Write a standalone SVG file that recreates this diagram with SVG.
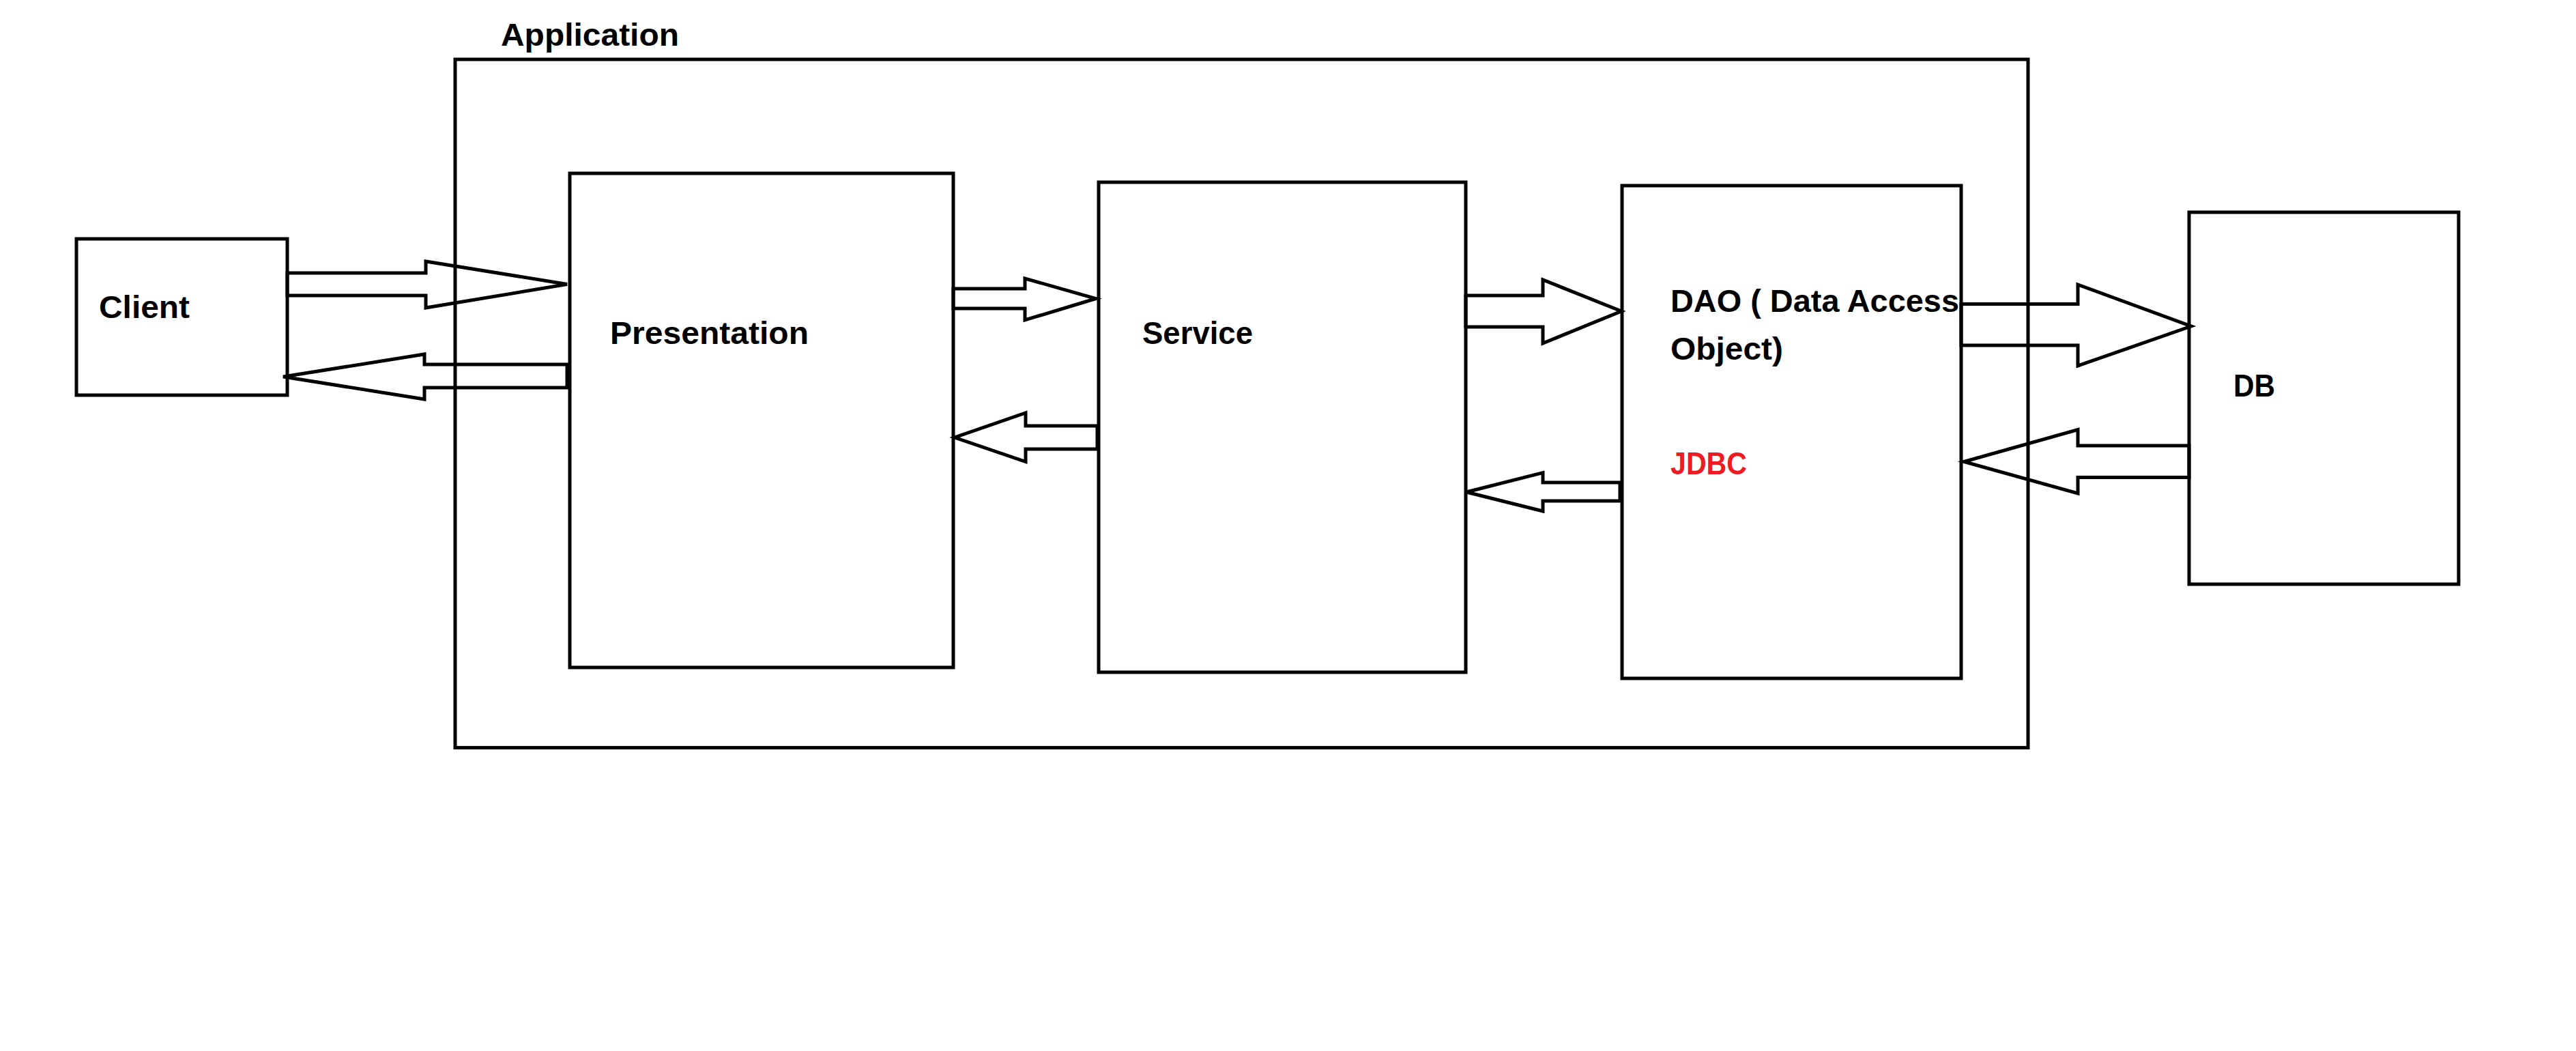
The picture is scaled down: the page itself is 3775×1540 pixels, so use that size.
<svg xmlns="http://www.w3.org/2000/svg" width="3775" height="1540" viewBox="0 0 3775 1540">
<style>
.box{fill:none;stroke:#000;stroke-width:5}
.arr{fill:none;stroke:#000;stroke-width:5;stroke-linejoin:miter}
.lbl{font-family:"Liberation Sans",Arial,sans-serif;font-weight:bold;font-size:46px;fill:#000}
.red{fill:#ED1C24}
</style>
<rect width="3775" height="1540" fill="#fff"/>
<g id="application">
<rect class="box" x="667" y="87" width="2305" height="1008.6"/>
<text class="lbl" x="734" y="67" textLength="261" lengthAdjust="spacingAndGlyphs">Application</text>
</g>
<g id="client">
<rect class="box" x="112" y="350" width="309" height="229"/>
<text class="lbl" x="145" y="466" textLength="133" lengthAdjust="spacingAndGlyphs">Client</text>
</g>
<g id="presentation">
<rect class="box" x="835" y="254" width="562" height="724"/>
<text class="lbl" x="894" y="504" textLength="291" lengthAdjust="spacingAndGlyphs">Presentation</text>
</g>
<g id="service">
<rect class="box" x="1610" y="267" width="538" height="718"/>
<text class="lbl" x="1674" y="504" textLength="162" lengthAdjust="spacingAndGlyphs">Service</text>
</g>
<g id="dao">
<rect class="box" x="2377" y="272" width="497" height="722"/>
<text class="lbl" x="2448" y="457" textLength="423" lengthAdjust="spacingAndGlyphs">DAO ( Data Access</text>
<text class="lbl" x="2448" y="527" textLength="165" lengthAdjust="spacingAndGlyphs">Object)</text>
<text class="lbl red" x="2448" y="695" textLength="112" lengthAdjust="spacingAndGlyphs">JDBC</text>
</g>
<g id="db">
<rect class="box" x="3208" y="311" width="395" height="545"/>
<text class="lbl" x="3273" y="581" textLength="61" lengthAdjust="spacingAndGlyphs">DB</text>
</g>
<g id="connectors">
<polygon class="arr" points="421,400 624,400 624,383 831,416.5 624,451 624,433 421,433"/>
<polygon class="arr" points="831,534 622,534 622,519 415,552 622,585 622,568 831,568"/>
<polygon class="arr" points="1397,423 1502,423 1502,408 1606,437.5 1502,469 1502,452 1397,452"/>
<polygon class="arr" points="1608,624 1503,624 1503,605 1399,641 1503,676.5 1503,658 1608,658"/>
<polygon class="arr" points="2148,433 2261,433 2261,410 2376,456 2261,503 2261,479 2148,479"/>
<polygon class="arr" points="2374,707 2261,707 2261,692.6 2149,721 2261,749 2261,734 2374,734"/>
<polygon class="arr" points="2874,445.5 3045,445.5 3045,417 3211,478 3045,536 3045,506 2874,506"/>
<polygon class="arr" points="3208,653 3045,653 3045,629.5 2878,676.5 3045,723 3045,699.5 3208,699.5"/>
</g>
</svg>
